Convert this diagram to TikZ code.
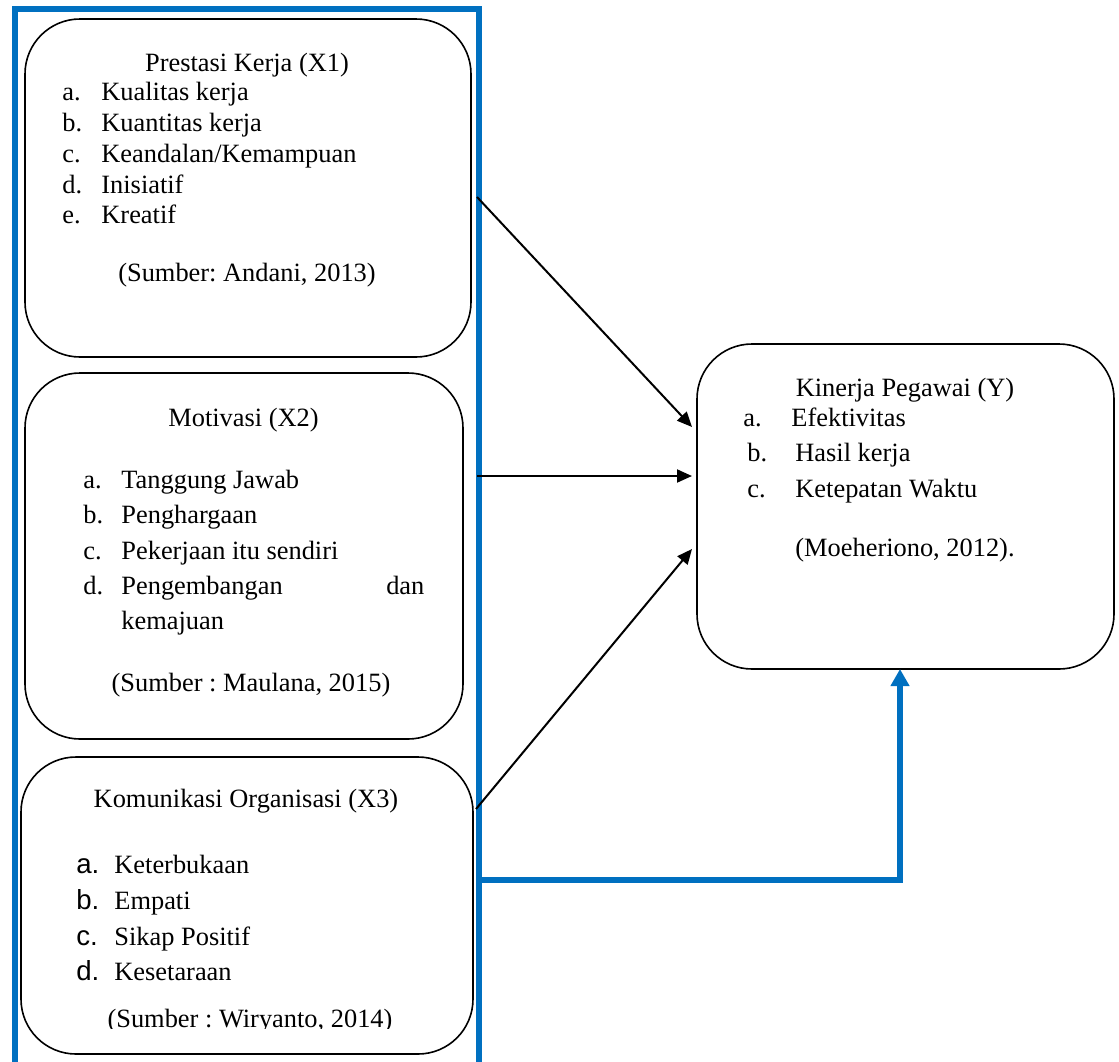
\documentclass[tikz,border=0pt]{standalone}
\usepackage{fontspec}
\setmainfont{Liberation Serif}
\newfontfamily\lsans{Liberation Sans}
\usetikzlibrary{arrows.meta}
\definecolor{wblue}{HTML}{0070C0}
\frenchspacing
\begin{document}
\begin{tikzpicture}[x=0.5pt,y=-0.5pt,
  box/.style={draw=black,line width=0.8pt,rounded corners=27.5pt,inner sep=0pt,outer sep=0pt},
  txt/.style={inner sep=0pt,anchor=base west,font=\fontsize{13.2}{15.5}\selectfont},
  ctxt/.style={txt,anchor=base},
  slbl/.style={inner sep=0pt,anchor=base west,font=\lsans\fontsize{13.8}{15.5}\selectfont},
  blk/.style={draw=black,line width=1pt,-{Triangle[length=7.5pt,width=6.5pt]}},
  blu/.style={draw=wblue,line width=3pt}]
\useasboundingbox (0,0) rectangle (1119,1061);

% boxes
\node[box,minimum width=223pt,minimum height=169pt] (b1) at (248,188) {};
\node[box,minimum width=219pt,minimum height=183pt] (b2) at (244,556) {};
\node[box,minimum width=226pt,minimum height=148.5pt] (b3) at (247,905.5) {};
\node[box,minimum width=208.5pt,minimum height=162.5pt] (by) at (905.5,506.5) {};

% blue frame
\begin{scope}
\clip (0,0) rectangle (1119,1061);
\draw[blu] (14.5,1075) -- (14.5,8.5) -- (479,8.5) -- (479,1075);
\end{scope}

% box 1 text
\node[ctxt] (t1) at (247,71) {Prestasi Kerja (X1)};
\node[txt] (l1a) at (62,100) {a.};   \node[txt] (i1a) at (101,100) {Kualitas kerja};
\node[txt] (l1b) at (62,131) {b.};   \node[txt] (i1b) at (101,131) {Kuantitas kerja};
\node[txt] (l1c) at (62,162) {c.};   \node[txt] (i1c) at (101,162) {Keandalan/Kemampuan};
\node[txt] (l1d) at (62,193) {d.};   \node[txt] (i1d) at (101,193) {Inisiatif};
\node[txt] (l1e) at (62,223) {e.};   \node[txt] (i1e) at (101,223) {Kreatif};
\node[ctxt] (s1) at (247,281) {(Sumber: Andani, 2013)};

% box 2 text
\node[ctxt] (t2) at (243.5,426) {Motivasi (X2)};
\node[txt] (l2a) at (83,488) {a.};   \node[txt] (i2a) at (121,488) {Tanggung Jawab};
\node[txt] (l2b) at (83,523) {b.};   \node[txt] (i2b) at (121,523) {Penghargaan};
\node[txt] (l2c) at (83,559) {c.};   \node[txt] (i2c) at (121,559) {Pekerjaan itu sendiri};
\node[txt] (l2d) at (83,594) {d.};   \node[txt] (i2d) at (121,594) {\hbox to 151.5pt{Pengembangan\hfill dan}};
\node[txt] (i2e) at (121,629) {kemajuan};
\node[ctxt] (s2) at (251,691) {(Sumber : Maulana, 2015)};

% box 3 text
\node[ctxt] (t3) at (246,807) {Komunikasi Organisasi (X3)};
\node[slbl] (l3a) at (76,873) {a.};   \node[txt] (i3a) at (114,873) {Keterbukaan};
\node[slbl] (l3b) at (76,909) {b.};   \node[txt] (i3b) at (114,909) {Empati};
\node[slbl] (l3c) at (76,945) {c.};   \node[txt] (i3c) at (114,945) {Sikap Positif};
\node[slbl] (l3d) at (76,980) {d.};   \node[txt] (i3d) at (114,980) {Kesetaraan};
\begin{scope}
\clip (0,0) rectangle (1119,1028.5);
\node[ctxt] (s3) at (250,1027) {(Sumber : Wiryanto, 2014)};
\end{scope}

% box Y text
\node[ctxt] (ty) at (905,396) {Kinerja Pegawai (Y)};
\node[txt] (lya) at (743,426) {a.};   \node[txt] (iya) at (791,426) {Efektivitas};
\node[txt] (lyb) at (747,461) {b.};   \node[txt] (iyb) at (795,461) {Hasil kerja};
\node[txt] (lyc) at (747,497) {c.};   \node[txt] (iyc) at (795,497) {Ketepatan Waktu};
\node[txt] (sy) at (795,556) {(Moeheriono, 2012).};

% black arrows
\coordinate (a1s) at (477,197);  \coordinate (a1e) at (692,427);
\coordinate (a2s) at (477,476);  \coordinate (a2e) at (692,476);
\coordinate (a3s) at (476,809);  \coordinate (a3e) at (692,549);
\draw[blk] (a1s) -- (a1e);
\draw[blk] (a2s) -- (a2e);
\draw[blk] (a3s) -- (a3e);

% blue arrow
\coordinate (bs) at (479,880);
\coordinate (bc) at (900,880);
\draw[blu,-{Triangle[length=8.5pt,width=9pt]}] (bs) -- (bc) -- (bc |- by.south);
\end{tikzpicture}
\end{document}
